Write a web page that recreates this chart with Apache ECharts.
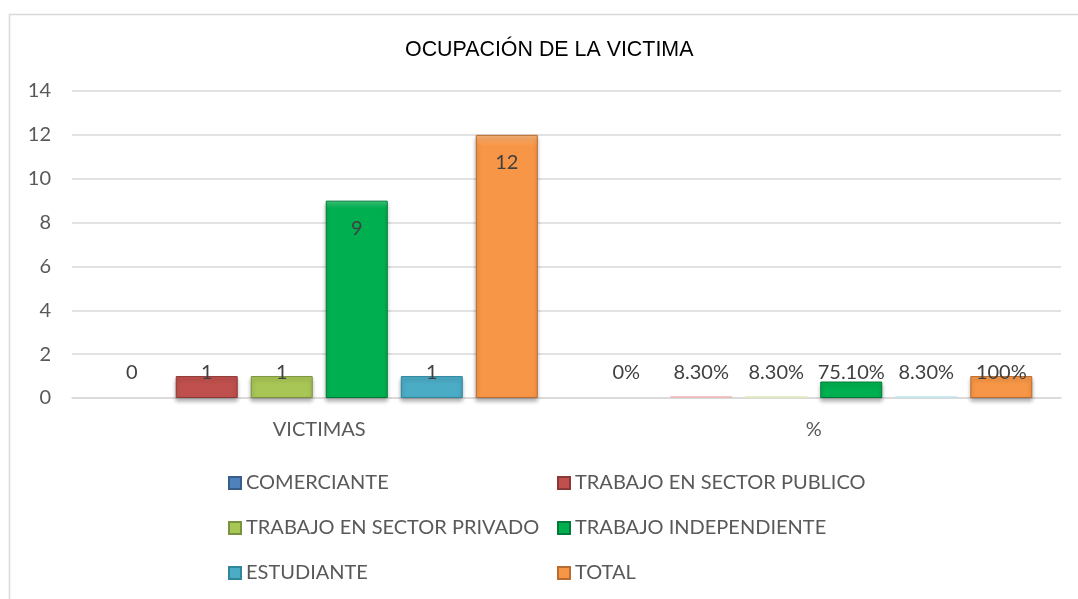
<!DOCTYPE html>
<html>
<head>
<meta charset="utf-8">
<script src="https://cdn.jsdelivr.net/npm/echarts@6/dist/echarts.min.js"></script>
<style>html,body{margin:0;padding:0;background:#fff}#c{width:1078px;height:599px}</style>
</head>
<body>
<div id="c"></div>
<script>
var title = 'OCUPACIÓN DE LA VICTIMA';
var categories = ['VICTIMAS', '%'];
var seriesNames = ['COMERCIANTE', 'TRABAJO EN SECTOR PUBLICO', 'TRABAJO EN SECTOR PRIVADO', 'TRABAJO INDEPENDIENTE', 'ESTUDIANTE', 'TOTAL'];
var victimas = [0, 1, 1, 9, 1, 12];
var porcentajes = [0, 0.083, 0.083, 0.751, 0.083, 1];
var pctLabels = ['0%', '8.30%', '8.30%', '75.10%', '8.30%', '100%'];
var yTicks = [0, 2, 4, 6, 8, 10, 12, 14];

var baseColors = ['#4F81BD', '#C0504D', '#A8C656', '#00B050', '#4BACC6', '#F79646'];
var lightColors = ['#7FA6D6', '#DA7B78', '#C9DE83', '#3FCB7C', '#7FCDE0', '#FBB47A'];
var darkColors = ['#385D8A', '#8C3836', '#7A923F', '#007A38', '#31859C', '#B86C2F'];
var faintColors = ['#C9D8EC', '#EDB9B8', '#DCE8BE', '#9EDDB8', '#BFE3EC', '#FBD3B2'];

var FONT = 'Lato';
var series = seriesNames.map(function (name, i) {
  var vals = [victimas[i], porcentajes[i]];
  return {
    name: name,
    type: 'bar',
    barWidth: 62,
    barGap: '21%',
    itemStyle: {
      color: new echarts.graphic.LinearGradient(0, 0, 0, 1, [
        { offset: 0, color: lightColors[i] },
        { offset: 0.04, color: baseColors[i] },
        { offset: 1, color: baseColors[i] }
      ]),
      borderColor: darkColors[i],
      borderWidth: 1,
      shadowBlur: 4,
      shadowOffsetY: 3,
      shadowColor: 'rgba(0,0,0,0.3)'
    },
    data: vals.map(function (v, j) {
      var big = v >= 3;
      var tiny = v < 0.5;
      var item = {
        value: v,
        label: {
          show: true,
          position: big ? 'insideTop' : 'insideBottom',
          distance: big ? 18 : 15,
          formatter: j === 0 ? String(v) : pctLabels[i]
        }
      };
      if (tiny) {
        item.itemStyle = {
          color: v > 0 ? faintColors[i] : 'rgba(0,0,0,0)',
          borderWidth: 0,
          shadowBlur: 0,
          shadowOffsetY: 0,
          shadowColor: 'rgba(0,0,0,0)'
        };
      }
      return item;
    }),
    label: {
      show: true,
      fontFamily: FONT,
      fontSize: 20,
      color: '#404040'
    }
  };
});

var legendText = { fontFamily: FONT, fontSize: 20, color: '#595959', lineHeight: 20 };
var chart = echarts.init(document.getElementById('c'), null, { renderer: 'canvas' });
chart.setOption({
  animation: false,
  color: baseColors,
  title: {
    text: title,
    left: 400,
    top: 35,
    textStyle: { fontFamily: 'Liberation Sans', fontSize: 21.4, fontWeight: 'normal', color: '#000' }
  },
  graphic: [{
    type: 'rect',
    shape: { x: 9.5, y: 14.5, width: 1100, height: 700 },
    style: { fill: 'none', stroke: '#D9D9D9', lineWidth: 1.5 },
    silent: true
  }],
  grid: { left: 72, right: 17, top: 91, bottom: 201, containLabel: false },
  xAxis: {
    type: 'category',
    data: categories,
    axisTick: { show: false },
    axisLine: { lineStyle: { color: '#D9D9D9', width: 1.5 } },
    axisLabel: { fontFamily: FONT, fontSize: 20, color: '#595959', margin: 22 }
  },
  yAxis: {
    type: 'value',
    min: yTicks[0],
    max: yTicks[yTicks.length - 1],
    interval: yTicks[1] - yTicks[0],
    axisLine: { show: false },
    axisTick: { show: false },
    splitLine: { lineStyle: { color: '#D9D9D9', width: 1.5 } },
    axisLabel: { fontFamily: FONT, fontSize: 20, color: '#595959', margin: 21 }
  },
  legend: [{
    orient: 'vertical',
    left: 223,
    top: 468,
    itemWidth: 12,
    itemHeight: 12,
    itemGap: 25,
    icon: 'rect',
    data: [seriesNames[0], seriesNames[2], seriesNames[4]],
    textStyle: legendText
  }, {
    orient: 'vertical',
    left: 552,
    top: 468,
    itemWidth: 12,
    itemHeight: 12,
    itemGap: 25,
    icon: 'rect',
    data: [seriesNames[1], seriesNames[3], seriesNames[5]],
    textStyle: legendText
  }],
  series: series
});
</script>
</body>
</html>
